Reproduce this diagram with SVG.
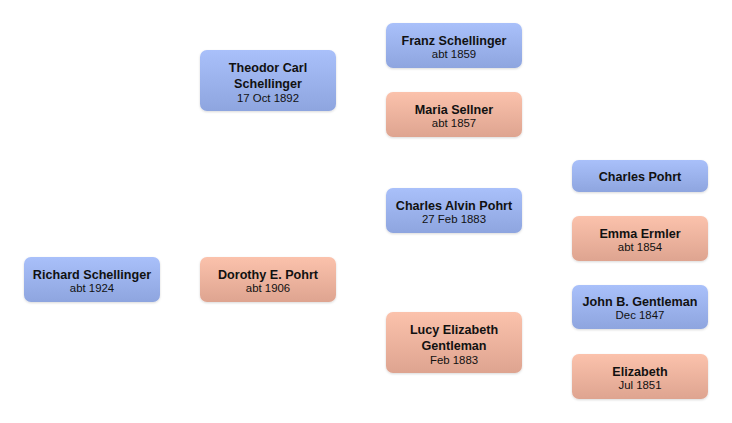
<svg xmlns="http://www.w3.org/2000/svg" width="732" height="423" viewBox="0 0 732 423">
<defs>
<linearGradient id="gb" x1="0" y1="0" x2="0" y2="1"><stop offset="0" stop-color="#a9c0fa"/><stop offset="1" stop-color="#8ea5df"/></linearGradient>
<linearGradient id="gp" x1="0" y1="0" x2="0" y2="1"><stop offset="0" stop-color="#fbc2ac"/><stop offset="1" stop-color="#dea490"/></linearGradient>
<filter id="sh" x="-10%" y="-10%" width="120%" height="130%"><feDropShadow dx="0" dy="1" stdDeviation="1" flood-color="#000" flood-opacity="0.15"/></filter>
</defs>
<style>
rect{filter:url(#sh)}
.m rect{fill:url(#gb)}
.f rect{fill:url(#gp)}
text{font-family:"Liberation Sans",Arial,sans-serif;text-anchor:middle;fill:#111}
.n{font-size:12.6px;font-weight:bold}
.d{font-size:11.4px}
</style>
<rect width="732" height="423" fill="#fff" style="filter:none"/>
<g id="connectors"></g>
<g id="richard" class="m"><rect x="24" y="257" width="136" height="45" rx="7"/><text class="n" x="92" y="279">Richard Schellinger</text><text class="d" x="92" y="292">abt 1924</text></g>
<g id="theodor" class="m"><rect x="200" y="50" width="136" height="61" rx="7"/><text class="n" x="268" y="72">Theodor Carl</text><text class="n" x="268" y="88">Schellinger</text><text class="d" x="268" y="102">17 Oct 1892</text></g>
<g id="dorothy" class="f"><rect x="200" y="257" width="136" height="45" rx="7"/><text class="n" x="268" y="279">Dorothy E. Pohrt</text><text class="d" x="268" y="292">abt 1906</text></g>
<g id="franz" class="m"><rect x="386" y="23" width="136" height="45" rx="7"/><text class="n" x="454" y="45">Franz Schellinger</text><text class="d" x="454" y="58">abt 1859</text></g>
<g id="maria" class="f"><rect x="386" y="92" width="136" height="45" rx="7"/><text class="n" x="454" y="114">Maria Sellner</text><text class="d" x="454" y="127">abt 1857</text></g>
<g id="charlesalvin" class="m"><rect x="386" y="188" width="136" height="45" rx="7"/><text class="n" x="454" y="210">Charles Alvin Pohrt</text><text class="d" x="454" y="223">27 Feb 1883</text></g>
<g id="lucy" class="f"><rect x="386" y="312" width="136" height="61" rx="7"/><text class="n" x="454" y="334">Lucy Elizabeth</text><text class="n" x="454" y="350">Gentleman</text><text class="d" x="454" y="364">Feb 1883</text></g>
<g id="charles" class="m"><rect x="572" y="160" width="136" height="32" rx="7"/><text class="n" x="640" y="181">Charles Pohrt</text></g>
<g id="emma" class="f"><rect x="572" y="216" width="136" height="45" rx="7"/><text class="n" x="640" y="238">Emma Ermler</text><text class="d" x="640" y="251">abt 1854</text></g>
<g id="john" class="m"><rect x="572" y="285" width="136" height="44" rx="7"/><text class="n" x="640" y="306">John B. Gentleman</text><text class="d" x="640" y="319">Dec 1847</text></g>
<g id="elizabeth" class="f"><rect x="572" y="354" width="136" height="45" rx="7"/><text class="n" x="640" y="376">Elizabeth</text><text class="d" x="640" y="389">Jul 1851</text></g>
</svg>
